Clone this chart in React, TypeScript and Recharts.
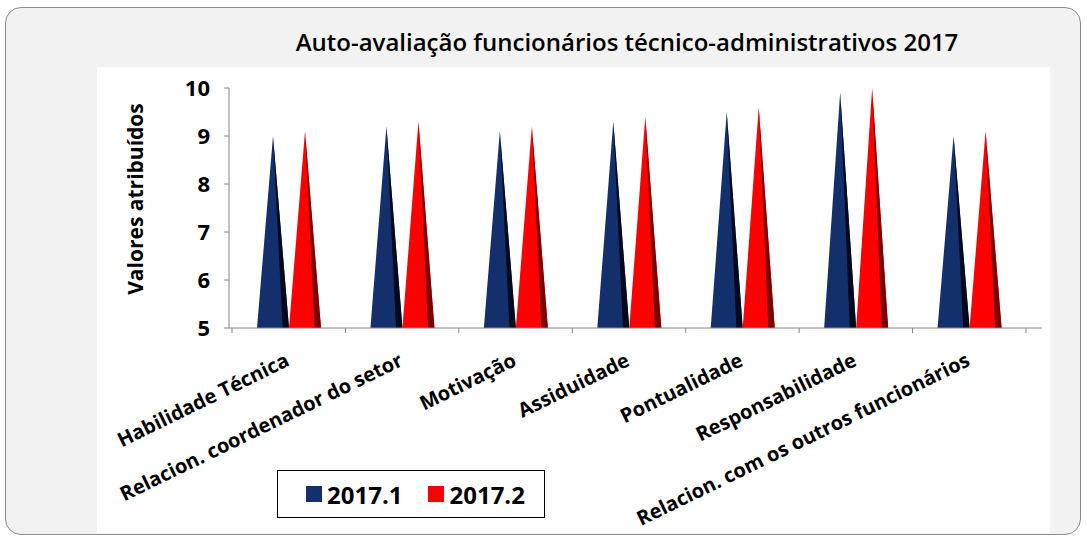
import React from 'react'
import { BarChart, Bar, XAxis, YAxis, Legend } from 'recharts'

const categories = [
  'Habilidade Técnica',
  'Relacion. coordenador do setor',
  'Motivação',
  'Assiduidade',
  'Pontualidade',
  'Responsabilidade',
  'Relacion. com os outros funcionários',
]
const valores20171 = [9.0, 9.2, 9.1, 9.3, 9.5, 9.9, 9.0]
const valores20172 = [9.1, 9.3, 9.2, 9.4, 9.6, 10.0, 9.1]
const yTicks = [5, 6, 7, 8, 9, 10]
const seriesNames = ['2017.1', '2017.2']

const COLORS = ['#14306c', '#ff0000']
const SHADES = ['#040a1c', '#7a0000']
const FONT = '"Open Sans", "DejaVu Sans", sans-serif'

const data = categories.map((name, i) => ({
  name,
  s1: valores20171[i],
  s2: valores20172[i],
}))

function Pyramid(props: any) {
  const { x, y, width, height, fill, shade } = props
  if (!height || height <= 0) return null
  const by = y + height
  const ax = x + width / 2
  return (
    <g>
      <path d={`M${x},${by} L${ax},${y} L${x + width},${by} Z`} fill={fill} />
      <path d={`M${ax},${y} L${x + width},${by} L${x + width * 0.8},${by} Z`} fill={shade} />
    </g>
  )
}

function CategoryTick(props: any) {
  const { x, y, payload, index } = props
  const half = payload && payload.offset ? payload.offset : 56.7
  const tx = x + 2
  const ty = y + 37
  return (
    <g>
      <line x1={x - half} y1={y} x2={x - half} y2={y + 5} stroke="#868686" />
      {index === categories.length - 1 && (
        <line x1={x + half} y1={y} x2={x + half} y2={y + 5} stroke="#868686" />
      )}
      <text
        x={tx}
        y={ty}
        transform={`rotate(-26, ${tx}, ${ty})`}
        textAnchor="end"
        fontFamily={FONT}
        fontWeight={700}
        fontSize={20}
        fill="#000"
      >
        {payload.value}
      </text>
    </g>
  )
}

function YLabel(props: any) {
  const { viewBox } = props
  const cx = viewBox.x + 41
  const cy = viewBox.y + viewBox.height / 2 - 9
  return (
    <text
      x={cx}
      y={cy}
      transform={`rotate(-90, ${cx}, ${cy})`}
      textAnchor="middle"
      dominantBaseline="central"
      fontFamily={FONT}
      fontWeight={700}
      fontSize={21}
      fill="#000"
    >
      Valores atribuídos
    </text>
  )
}

const renderLegend = () => (
  <div
    style={{
      width: 268,
      height: 48,
      boxSizing: 'border-box',
      border: '1.5px solid #000',
      background: '#fff',
      display: 'flex',
      alignItems: 'center',
      paddingLeft: 28,
      fontFamily: FONT,
      fontWeight: 700,
      fontSize: 24,
      color: '#000',
    }}
  >
    {seriesNames.map((n, i) => (
      <span key={n} style={{ display: 'flex', alignItems: 'center', marginRight: 26 }}>
        <span style={{ width: 16, height: 16, background: COLORS[i], marginRight: 5 }} />
        {n}
      </span>
    ))}
  </div>
)

export default function App() {
  return (
    <div style={{ position: 'absolute', left: 0, top: 0, width: 1087, height: 540, background: '#fff' }}>
      <div
        style={{
          position: 'absolute',
          left: 5,
          top: 7,
          width: 1076,
          height: 528,
          boxSizing: 'border-box',
          border: '1.5px solid #8c8c8c',
          borderRadius: 16,
          background: '#f2f2f2',
        }}
      />
      <div style={{ position: 'absolute', left: 97, top: 67, width: 953, height: 466, background: '#fff' }} />
      <div
        style={{
          position: 'absolute',
          left: 627,
          top: 25,
          transform: 'translateX(-50%)',
          whiteSpace: 'nowrap',
          fontFamily: FONT,
          fontWeight: 600,
          fontSize: 24,
          color: '#000',
        }}
      >
        Auto-avaliação funcionários técnico-administrativos 2017
      </div>
      <div style={{ position: 'absolute', left: 0, top: 0 }}>
        <BarChart
          width={1087}
          height={540}
          data={data}
          margin={{ top: 88, right: 45, bottom: 182, left: 94 }}
          barGap={0}
          barSize={32}
        >
          <XAxis
            dataKey="name"
            height={30}
            interval={0}
            axisLine={{ stroke: '#868686' }}
            tickLine={false}
            tickSize={0}
            tickMargin={0}
            padding={{ left: 3, right: 16 }}
            tick={<CategoryTick />}
          />
          <YAxis
            domain={[5, 10]}
            ticks={yTicks}
            interval={0}
            width={135}
            axisLine={{ stroke: '#868686' }}
            tickLine={{ stroke: '#868686' }}
            tickSize={5}
            tickMargin={14}
            tick={{ fontFamily: FONT, fontWeight: 700, fontSize: 22, fill: '#000' }}
            label={<YLabel />}
          />
          <Legend
            layout="horizontal"
            verticalAlign="middle"
            align="center"
            content={renderLegend}
            wrapperStyle={{ position: 'absolute', left: 277, top: 470, width: 268, height: 48 }}
          />
          <Bar
            dataKey="s1"
            name={seriesNames[0]}
            fill={COLORS[0]}
            isAnimationActive={false}
            shape={(p: any) => <Pyramid {...p} shade={SHADES[0]} />}
          />
          <Bar
            dataKey="s2"
            name={seriesNames[1]}
            fill={COLORS[1]}
            isAnimationActive={false}
            shape={(p: any) => <Pyramid {...p} shade={SHADES[1]} />}
          />
        </BarChart>
      </div>
    </div>
  )
}
